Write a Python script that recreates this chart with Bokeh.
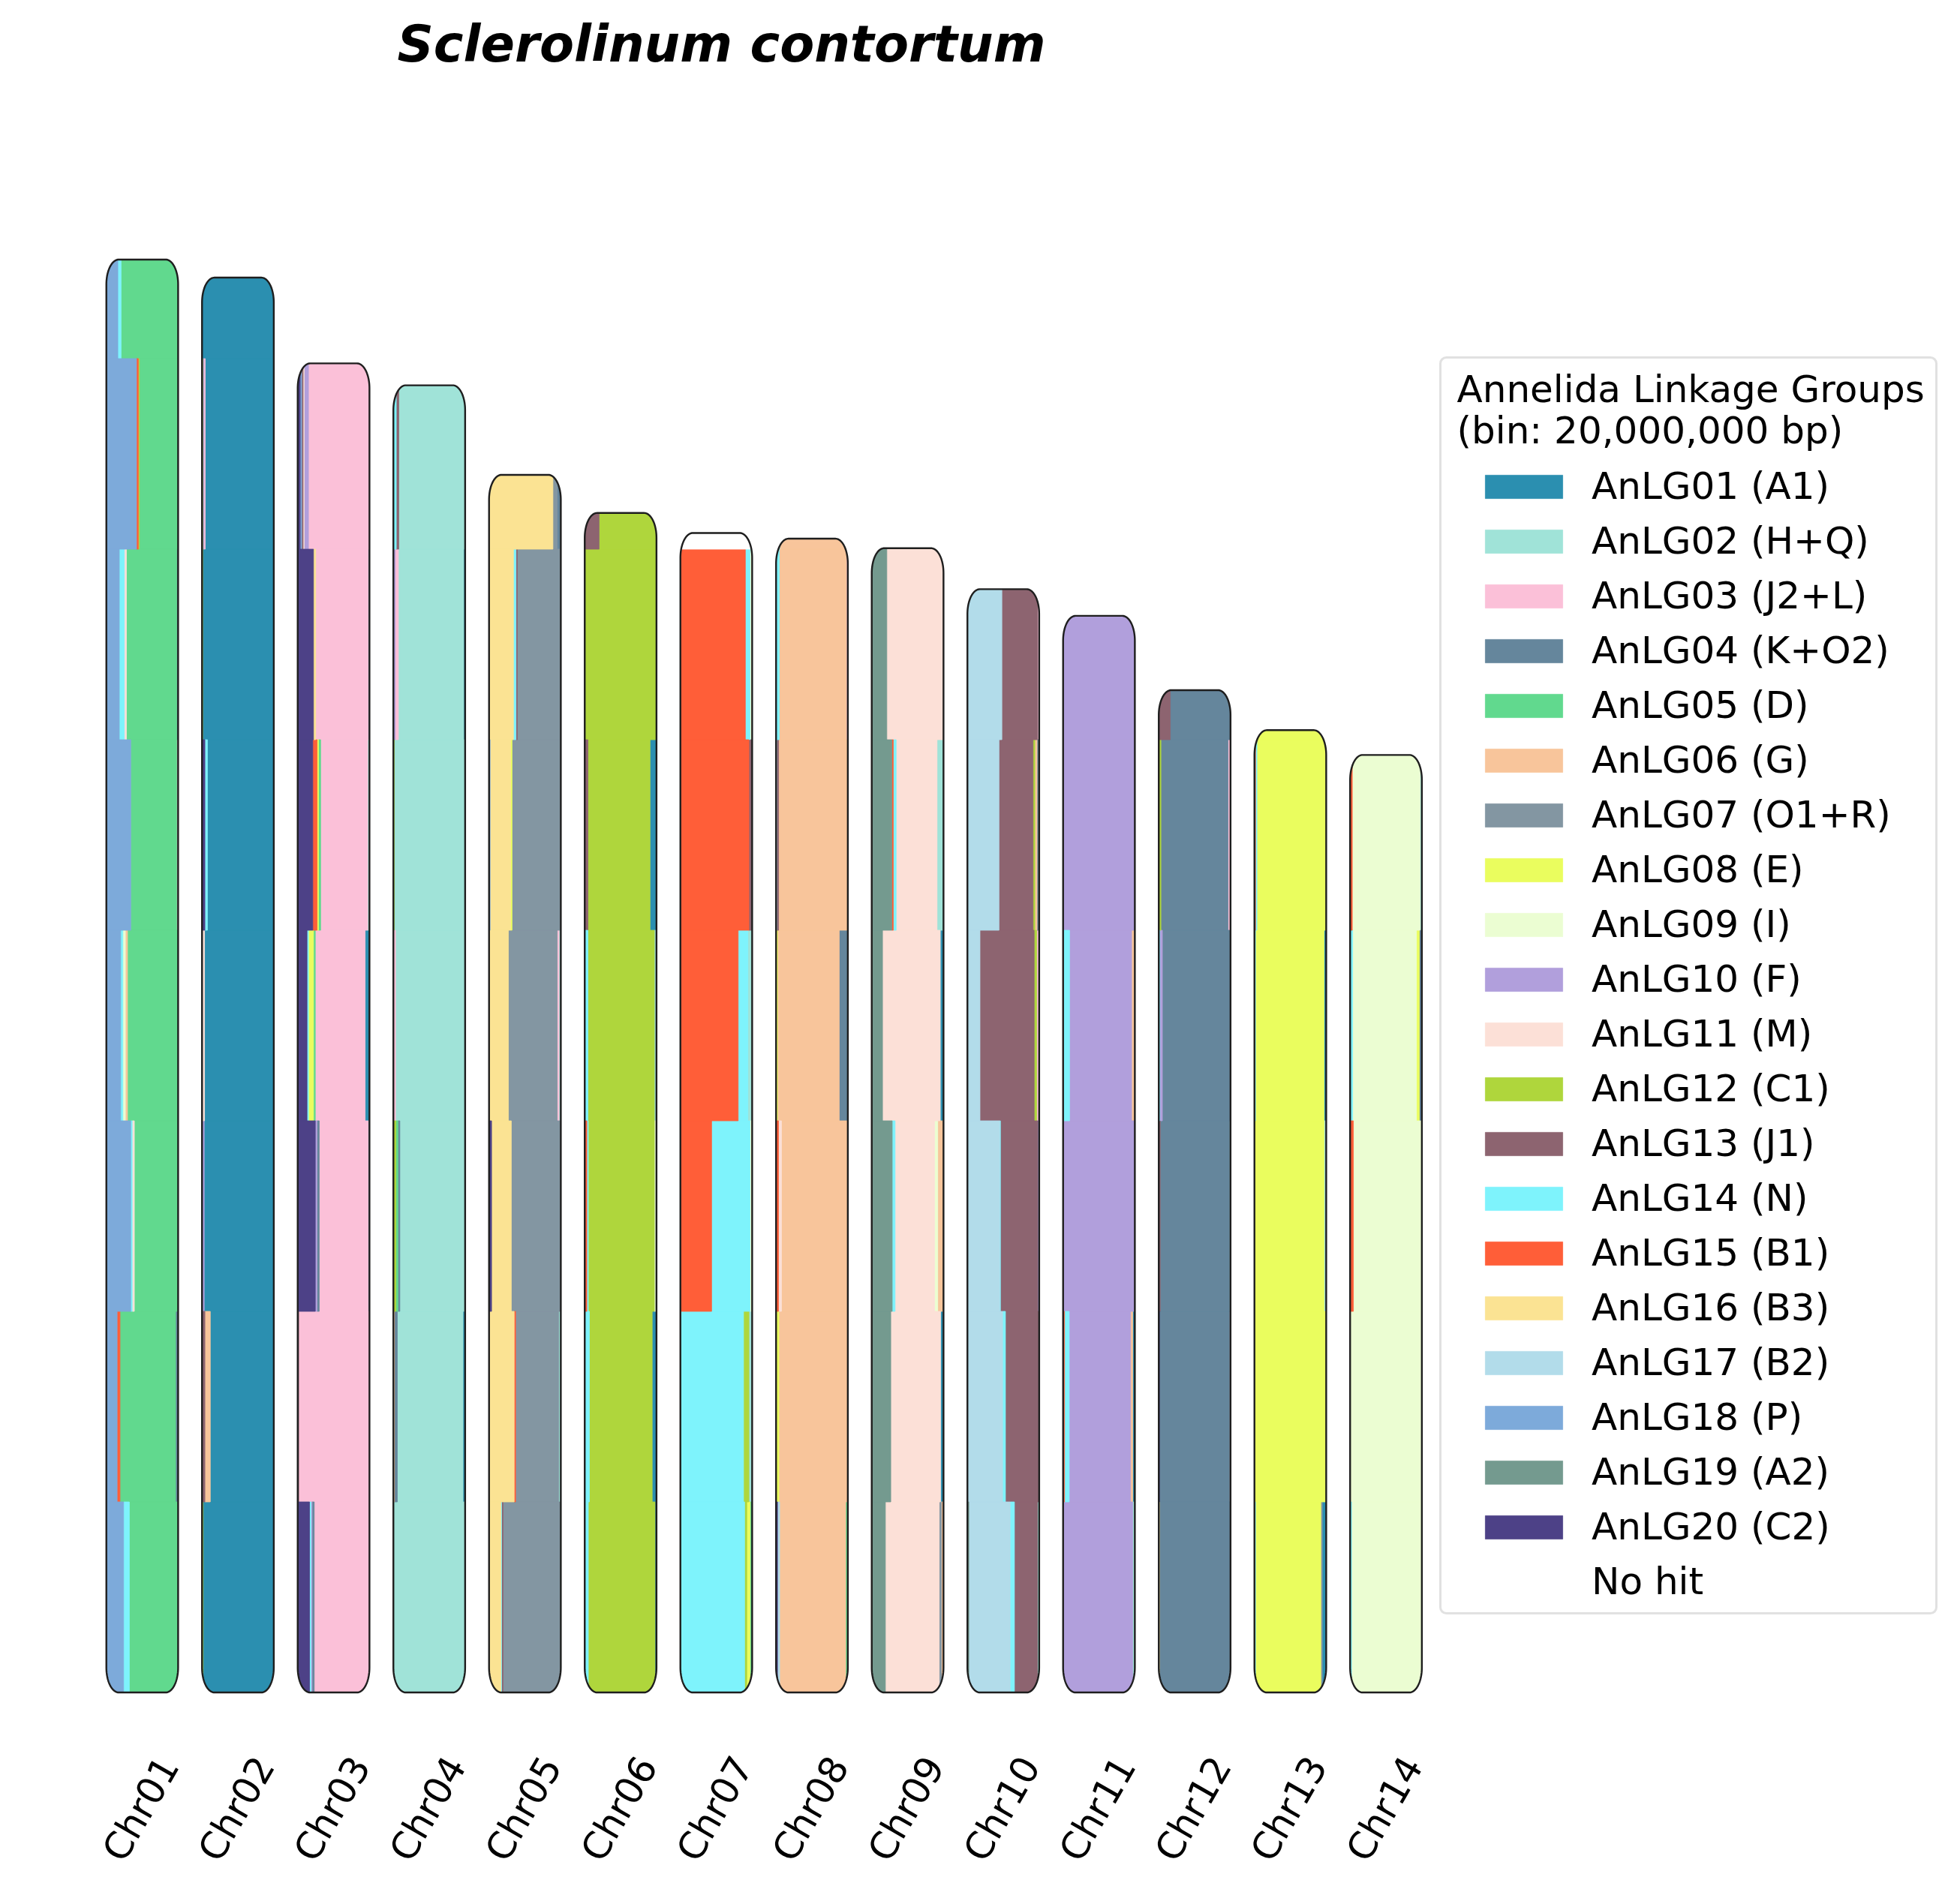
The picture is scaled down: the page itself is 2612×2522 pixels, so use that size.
import math
from bokeh.plotting import figure
from bokeh.models import Range1d, Legend, LegendItem, Label, BoxAnnotation, ColumnDataSource
from bokeh.core.properties import value
from bokeh.embed import file_html
from bokeh.resources import INLINE

# ---------------- data ----------------
title_text = "Sclerolinum contortum"
chroms = ["Chr01", "Chr02", "Chr03", "Chr04", "Chr05", "Chr06", "Chr07",
          "Chr08", "Chr09", "Chr10", "Chr11", "Chr12", "Chr13", "Chr14"]
chrom_len_mb = [150.4, 148.5, 139.5, 137.2, 127.8, 123.8, 121.7,
                121.1, 120.1, 115.8, 113.0, 105.2, 101.0, 98.4]
BIN_MB = 20

lg_labels = ["AnLG01 (A1)", "AnLG02 (H+Q)", "AnLG03 (J2+L)", "AnLG04 (K+O2)",
             "AnLG05 (D)", "AnLG06 (G)", "AnLG07 (O1+R)", "AnLG08 (E)",
             "AnLG09 (I)", "AnLG10 (F)", "AnLG11 (M)", "AnLG12 (C1)",
             "AnLG13 (J1)", "AnLG14 (N)", "AnLG15 (B1)", "AnLG16 (B3)",
             "AnLG17 (B2)", "AnLG18 (P)", "AnLG19 (A2)", "AnLG20 (C2)", "No hit"]
lg_colors = ["#2b8fb0", "#a0e3d8", "#fbc0d8", "#65869c", "#61d98e", "#f8c59b",
             "#8396a2", "#eafd5e", "#ebfdd2", "#b19fdc", "#fce0d7", "#afd63c",
             "#8d6470", "#7ef3fc", "#ff5e38", "#fbe393", "#b2dcea", "#7daada",
             "#749a8f", "#4d4187", "#ffffff"]
NO_HIT = 21

# per chromosome: one dict per 20 Mb bin, {AnLG number: share of bin}
chr01_bins = [{18: 0.24, 14: 0.08, 5: 0.68},
              {18: 0.15, 15: 0.04, 5: 0.775, 4: 0.035},
              {18: 0.34, 14: 0.02, 11: 0.03, 5: 0.61},
              {18: 0.20, 14: 0.03, 9: 0.035, 6: 0.03, 5: 0.705},
              {18: 0.34, 5: 0.64, 3: 0.02},
              {18: 0.18, 14: 0.07, 11: 0.03, 5: 0.70, 4: 0.02},
              {18: 0.42, 15: 0.025, 12: 0.015, 5: 0.54},
              {18: 0.16, 14: 0.045, 5: 0.795}]
chr02_bins = [{12: 0.015, 1: 0.985},
              {13: 0.04, 6: 0.075, 1: 0.885},
              {10: 0.03, 1: 0.97},
              {11: 0.035, 1: 0.965},
              {20: 0.04, 14: 0.035, 1: 0.925},
              {12: 0.01, 1: 0.99},
              {12: 0.01, 10: 0.015, 3: 0.02, 1: 0.955},
              {1: 1.0}]
chr03_bins = [{20: 0.165, 14: 0.02, 10: 0.015, 4: 0.03, 3: 0.77},
              {13: 0.015, 3: 0.985},
              {20: 0.245, 10: 0.025, 4: 0.03, 3: 0.685, 1: 0.015},
              {20: 0.13, 14: 0.02, 8: 0.07, 5: 0.025, 3: 0.695, 1: 0.06},
              {20: 0.21, 15: 0.06, 8: 0.02, 5: 0.03, 3: 0.655, 2: 0.025},
              {20: 0.22, 16: 0.03, 3: 0.735, 1: 0.015},
              {20: 0.035, 18: 0.02, 13: 0.02, 11: 0.015, 10: 0.06, 3: 0.85}]
chr04_bins = [{2: 1.0},
              {6: 0.015, 4: 0.04, 2: 0.915, 1: 0.03},
              {12: 0.035, 5: 0.03, 4: 0.025, 2: 0.90, 1: 0.01},
              {3: 0.03, 2: 0.97},
              {12: 0.012, 2: 0.988},
              {10: 0.025, 3: 0.045, 2: 0.91, 1: 0.02},
              {14: 0.04, 13: 0.035, 2: 0.925}]
chr05_bins = [{16: 0.165, 14: 0.01, 13: 0.02, 7: 0.795, 5: 0.01},
              {16: 0.35, 15: 0.02, 7: 0.60, 2: 0.03},
              {20: 0.035, 16: 0.275, 7: 0.69},
              {16: 0.27, 7: 0.68, 3: 0.025, 2: 0.025},
              {18: 0.015, 16: 0.285, 8: 0.02, 7: 0.68},
              {16: 0.34, 14: 0.035, 13: 0.02, 7: 0.605},
              {16: 0.89, 7: 0.06, 4: 0.05}]
chr06_bins = [{14: 0.05, 12: 0.93, 1: 0.02},
              {14: 0.065, 12: 0.875, 1: 0.06},
              {15: 0.03, 14: 0.02, 12: 0.92, 9: 0.03},
              {14: 0.045, 12: 0.925, 2: 0.03},
              {13: 0.045, 12: 0.865, 1: 0.09},
              {12: 1.0},
              {13: 0.20, 12: 0.80}]
chr07_bins = [{14: 0.895, 12: 0.03, 8: 0.045, 5: 0.03},
              {14: 0.88, 12: 0.075, 2: 0.045},
              {15: 0.435, 14: 0.535, 9: 0.03},
              {15: 0.805, 14: 0.135, 2: 0.06},
              {15: 0.955, 13: 0.045},
              {15: 0.905, 14: 0.065, 9: 0.03},
              {NO_HIT: 1.0}]
chr08_bins = [{20: 0.02, 17: 0.03, 6: 0.92, 5: 0.03},
              {8: 0.04, 6: 0.96},
              {15: 0.035, 11: 0.04, 6: 0.925},
              {8: 0.02, 6: 0.86, 4: 0.11, 1: 0.01},
              {17: 0.01, 13: 0.025, 6: 0.965},
              {14: 0.045, 6: 0.935, 3: 0.02},
              {14: 0.05, 6: 0.95}]
chr09_bins = [{19: 0.19, 11: 0.75, 7: 0.03, 6: 0.03},
              {19: 0.265, 11: 0.695, 1: 0.04},
              {19: 0.285, 14: 0.04, 11: 0.55, 9: 0.045, 6: 0.08},
              {19: 0.15, 11: 0.805, 1: 0.045},
              {19: 0.28, 15: 0.02, 14: 0.04, 11: 0.57, 2: 0.09},
              {19: 0.21, 11: 0.79},
              {19: 0.21, 11: 0.79}]
chr10_bins = [{19: 0.02, 17: 0.575, 14: 0.06, 13: 0.32, 2: 0.025},
              {17: 0.49, 14: 0.04, 13: 0.46, 1: 0.01},
              {17: 0.45, 14: 0.01, 13: 0.52, 10: 0.02},
              {17: 0.175, 13: 0.755, 12: 0.035, 3: 0.035},
              {17: 0.44, 13: 0.475, 12: 0.025, 6: 0.03, 4: 0.03},
              {17: 0.48, 13: 0.495, 3: 0.025}]
chr11_bins = [{10: 0.97, 2: 0.03},
              {15: 0.02, 14: 0.065, 10: 0.855, 6: 0.03, 1: 0.03},
              {10: 1.0},
              {14: 0.09, 10: 0.865, 6: 0.045},
              {10: 1.0},
              {10: 1.0}]
chr12_bins = [{16: 0.01, 4: 0.99},
              {20: 0.01, 4: 0.975, 3: 0.015},
              {13: 0.02, 4: 0.965, 2: 0.015},
              {14: 0.015, 10: 0.035, 4: 0.95},
              {12: 0.03, 4: 0.935, 3: 0.035},
              {13: 0.16, 4: 0.84}]
chr13_bins = [{14: 0.015, 8: 0.91, 7: 0.02, 1: 0.055},
              {8: 1.0},
              {8: 0.97, 2: 0.03},
              {14: 0.015, 8: 0.955, 1: 0.03},
              {15: 0.015, 14: 0.02, 8: 0.965},
              {15: 0.015, 14: 0.02, 8: 0.965}]
chr14_bins = [{14: 0.02, 9: 0.98},
              {9: 0.99, 3: 0.01},
              {15: 0.045, 9: 0.955},
              {14: 0.035, 9: 0.89, 8: 0.04, 4: 0.035},
              {15: 0.03, 9: 0.945, 2: 0.025}]

all_bins = [chr01_bins, chr02_bins, chr03_bins, chr04_bins, chr05_bins,
            chr06_bins, chr07_bins, chr08_bins, chr09_bins, chr10_bins,
            chr11_bins, chr12_bins, chr13_bins, chr14_bins]

# ---------------- layout ----------------
W, H = 2596, 2506
PX_PER_X = 127.5
PX_PER_MB = 12.7
x_start = -1.42 - 8 / PX_PER_X
x_end = x_start + W / PX_PER_X
y_end = 176.97 + 8 / PX_PER_MB
y_start = y_end - H / PX_PER_MB


def px2x(px):
    return x_start + px / PX_PER_X


def px2y(py):
    return y_end - py / PX_PER_MB


FONT = "DejaVu Sans"
bar_w = 0.75
rx = 0.13     # corner rounding in x units
ry = 2.6      # corner rounding in Mb

p = figure(width=W, height=H, x_range=Range1d(x_start, x_end),
           y_range=Range1d(y_start, y_end), output_backend="svg",
           toolbar_location=None, x_axis_location=None, y_axis_location=None,
           min_border=0, outline_line_color=None, background_fill_color="white",
           border_fill_color="white")
p.grid.visible = False

# segments per linkage group
seg = {k: dict(left=[], right=[], bottom=[], top=[]) for k in range(1, 22)}
for i, (L, bins) in enumerate(zip(chrom_len_mb, all_bins)):
    x0 = i - bar_w / 2
    for b, comp in enumerate(bins):
        bot = b * BIN_MB
        top = min((b + 1) * BIN_MB, L)
        tot = sum(comp.values())
        cum = 0.0
        for lg in sorted(comp, reverse=True):
            f = comp[lg] / tot
            seg[lg]["left"].append(x0 + cum * bar_w)
            cum += f
            seg[lg]["right"].append(x0 + cum * bar_w)
            seg[lg]["bottom"].append(bot)
            seg[lg]["top"].append(top)

rends = {}
for k in range(1, 22):
    col = lg_colors[k - 1]
    rends[k] = p.quad(left="left", right="right", bottom="bottom", top="top",
                      source=ColumnDataSource(seg[k]), fill_color=col,
                      line_color=col, line_width=0.8)

# rounded corner masks and outlines
n_arc = 24
mask_xs, mask_ys, out_xs, out_ys = [], [], [], []
ex, ey = 0.03, 0.3
for i, L in enumerate(chrom_len_mb):
    x0, x1 = i - bar_w / 2, i + bar_w / 2
    y0, y1 = 0.0, L
    corners = [(x0, y1, x0 + rx, y1 - ry, -1, 1),
               (x1, y1, x1 - rx, y1 - ry, 1, 1),
               (x1, y0, x1 - rx, y0 + ry, 1, -1),
               (x0, y0, x0 + rx, y0 + ry, -1, -1)]
    for (cxn, cyn, cx, cy, sx, sy) in corners:
        xs = [cxn + sx * ex, cx]
        ys = [cyn + sy * ey, cyn + sy * ey]
        xs.append(cx)
        ys.append(cyn)
        for j in range(n_arc + 1):
            t = (math.pi / 2) * j / n_arc
            xs.append(cx + sx * rx * math.sin(t))
            ys.append(cy + sy * ry * math.cos(t))
        xs += [cxn + sx * ex]
        ys += [cy]
        mask_xs.append(xs)
        mask_ys.append(ys)
    oxs, oys = [], []
    arcs = [(x1 - rx, y0 + ry, -math.pi / 2, 0.0),
            (x1 - rx, y1 - ry, 0.0, math.pi / 2),
            (x0 + rx, y1 - ry, math.pi / 2, math.pi),
            (x0 + rx, y0 + ry, math.pi, 1.5 * math.pi)]
    for (cx, cy, a0, a1) in arcs:
        for j in range(n_arc + 1):
            t = a0 + (a1 - a0) * j / n_arc
            oxs.append(cx + rx * math.cos(t))
            oys.append(cy + ry * math.sin(t))
    out_xs.append(oxs)
    out_ys.append(oys)

p.patches(xs=mask_xs, ys=mask_ys, fill_color="white", line_color="white", line_width=1)
p.patches(xs=out_xs, ys=out_ys, fill_color=None, line_color="#1e1e1e", line_width=2.4)

# chromosome labels
p.text(x=list(range(len(chroms))), y=[0] * len(chroms), text=chroms,
       angle=math.pi / 3, text_align="right", text_baseline="middle",
       x_offset=36, y_offset=90, text_font=value(FONT),
       text_font_size="50px", text_color="black")

# title
p.add_layout(Label(x=px2x(961), y=px2y(58), text=title_text, text_align="center",
                   text_baseline="middle", text_font=FONT,
                   text_font_style="bold italic", text_font_size="67px",
                   text_color="black"))

# legend frame and title
p.add_layout(BoxAnnotation(left=px2x(1919), right=px2x(2580), top=px2y(476),
                           bottom=px2y(2150), fill_color="white", fill_alpha=1.0,
                           line_color="#9a9a9a", line_width=3, border_radius=8))
p.add_layout(Label(x=px2x(1941), y=px2y(518), text="Annelida Linkage Groups",
                   text_align="left", text_baseline="middle", text_font=FONT,
                   text_font_size="50px", text_color="black"))
p.add_layout(Label(x=px2x(1941), y=px2y(573), text="(bin: 20,000,000 bp)",
                   text_align="left", text_baseline="middle", text_font=FONT,
                   text_font_size="50px", text_color="black"))

items = [LegendItem(label=lg_labels[k - 1], renderers=[rends[k]]) for k in range(1, 22)]
legend = Legend(items=items, location=(1966, 369), orientation="vertical",
                glyph_width=129, glyph_height=39, label_height=39,
                label_standoff=26, spacing=15, padding=0, margin=0,
                border_line_color=None, background_fill_alpha=0.0,
                label_text_font=FONT, label_text_font_size="50px",
                label_text_color="black")
p.add_layout(legend)

open("out.html", "w").write(file_html(p, INLINE))
